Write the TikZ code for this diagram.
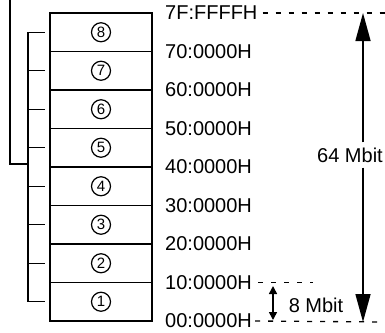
\documentclass[tikz,border=0pt]{standalone}
\usepackage{fontspec}
\setmainfont{Liberation Sans}
\usetikzlibrary{arrows.meta}

\tikzset{
  bloco/.style={draw, line width=1.5pt, minimum width=102pt, minimum height=38.5pt, inner sep=0pt},
  num/.style={draw, circle, line width=1.2pt, minimum size=19pt, inner sep=0pt, font=\fontsize{15}{15}\selectfont},
  ender/.style={anchor=west, inner sep=0pt, font=\fontsize{20}{20}\selectfont},
  tracejado/.style={line width=1.3pt, dash pattern=on 5pt off 8pt},
  seta/.style={line width=1.5pt, -{Triangle[length=28pt, width=15pt]}},
  setinha/.style={line width=1.5pt, {Triangle[length=8pt, width=8pt]}-{Triangle[length=8pt, width=8pt]}},
}

\begin{document}
\begin{tikzpicture}[x=1pt, y=-1pt]
    \useasboundingbox (0,0) rectangle (385,332);
    \def\h{38.5}
    \def\base{321}

    % Blocos de memória
    \foreach \i in {1,...,8} {
        \node[bloco] (b\i) at (101, {\base-\h*(\i-0.5)}) {};
        \node[num] (n\i) at (b\i) {\i};
        \coordinate (t\i) at (28, {\base-\h*(\i-0.5)});
        \coordinate (s\i) at (45, {\base-\h*(\i-0.5)});
        \draw[line width=1.3pt] (t\i) -- (s\i);
    }

    % Chaves à esquerda
    \draw[line width=1.3pt] (t8) -- (t1);
    \coordinate (topo) at (10,0);
    \coordinate (canto) at (10,164);
    \coordinate (junta) at (28,164);
    \draw[line width=1.3pt] (topo) -- (canto) -- (junta);

    % Endereços
    \foreach \j/\txt in {0/00:0000H, 1/10:0000H, 2/20:0000H, 3/30:0000H,
                         4/40:0000H, 5/50:0000H, 6/60:0000H, 7/70:0000H, 8/7F:FFFFH}
        \node[ender] (l\j) at (165, {\base-\h*\j}) {\txt};

    % Linhas tracejadas
    \coordinate (d8) at (385, {\base-\h*8});
    \coordinate (d1) at (313, {\base-\h});
    \coordinate (d0) at (385, \base+1);
    \draw[tracejado] ([xshift=5pt]l8.east) -- (d8);
    \draw[tracejado] ([xshift=6pt]l1.east) -- (d1);
    \draw[tracejado] ([xshift=3pt]l0.east) -- (d0);

    % Seta de 64 Mbit
    \node[font=\fontsize{20}{20}\selectfont, inner sep=5pt] (m64) at (350,155) {64 Mbit};
    \coordinate (a64t) at (363, {\base-\h*8});
    \coordinate (a64b) at (363, \base+1);
    \draw[seta] (m64.north -| a64t) -- (a64t);
    \draw[seta] (m64.south -| a64b) -- (a64b);

    % Seta de 8 Mbit
    \coordinate (p1) at (273,286);
    \coordinate (p0) at (273,320);
    \draw[setinha] (p0) -- (p1);
    \node[font=\fontsize{20}{20}\selectfont, inner sep=0pt] (m8) at (316,305) {8 Mbit};

\end{tikzpicture}
\end{document}
